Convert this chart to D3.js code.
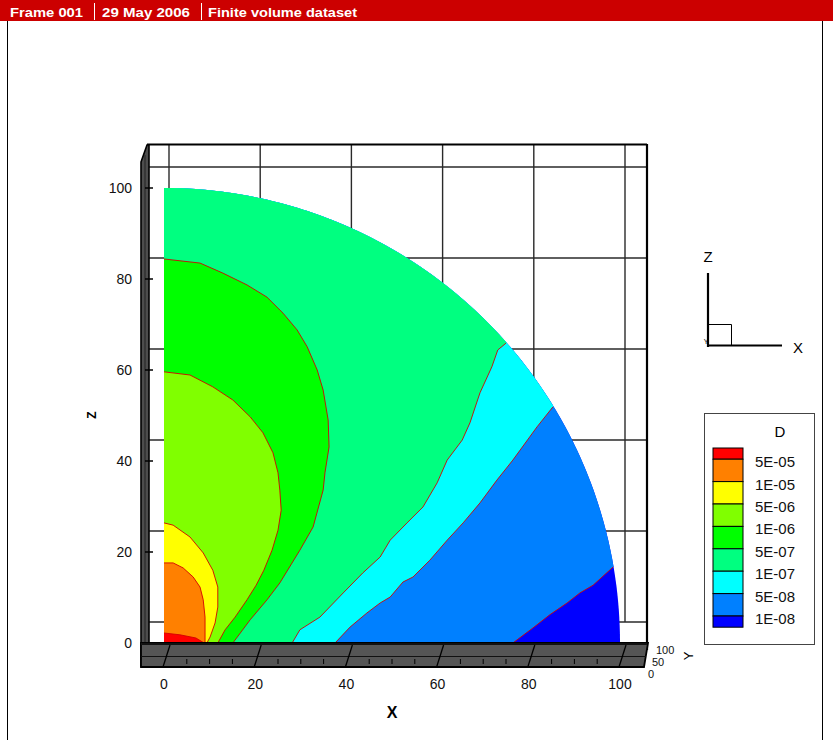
<!DOCTYPE html>
<html><head><meta charset="utf-8">
<script src="https://cdn.jsdelivr.net/npm/d3@7"></script>
<style>html,body{margin:0;padding:0;background:#fff;}svg{display:block;font-family:"Liberation Sans",Arial,sans-serif;}</style>
</head><body>
<script>
// ---------------- data ----------------
const headerItems = ["Frame 001", "29 May 2006", "Finite volume dataset"];
const levelLabels = ["5E-05","1E-05","5E-06","1E-06","5E-07","1E-07","5E-08","1E-08"];
const bandColors = ["#ff0000","#ff8000","#ffff00","#80ff00","#00ff00","#00ff80","#00ffff","#0080ff","#0000ff"];
const xTicks = [0,20,40,60,80,100];
const zTicks = [0,20,40,60,80,100];
const yTicks = [0,50,100];
const xMinor = [5,10,15,25,30,35,45,50,55,65,70,75,85,90,95];
const legendTitle = "D";
const domainRadius = 100;

// contour lines [x, z] — closed against the axes (inner) ...
const c5e05 = [[0,2.2],[3.5,1.8],[7,1.1],[8.8,0]];
const c1e05 = [[0,17.6],[2,17.6],[4.2,16.5],[6.4,14.5],[7.9,12.3],[8.6,9.5],[9,5.7],[9,2.2],[9,0]];
const c5e06 = [[0,26.4],[2,25.9],[5.7,23.3],[8.6,19.8],[10.7,16],[11.8,12.3],[11.8,7.9],[11.2,4.4],[10.1,1.3],[9.4,0]];
const c1e06 = [[0,59.6],[5.7,58.9],[10.7,56.3],[15.1,53.4],[18.9,49.7],[21.7,46.2],[23.9,41.8],[25,37.4],[25.4,33.6],[25.7,29.2],[25,24.8],[23.7,20.4],[21.9,16],[20.2,12.7],[18.2,9.5],[15.6,5.7],[13.4,2.9],[11.8,0]];
const c5e07 = [[0,84.4],[7.9,83.5],[12.9,81.3],[18.2,78.7],[22.6,76],[26.1,72.5],[29.2,68.8],[31.4,65.1],[33.6,60],[34.9,55.6],[36,49],[36.2,43.1],[35.3,37.4],[34.9,33.6],[32.7,25.5],[29.8,20.4],[25.4,13.2],[22.6,9.5],[18.9,5.1],[15.1,0]];
// ... and running from the x axis to the outer arc (outer)
const c1e07 = [[28.1,0],[29.8,2.9],[34.2,5.7],[39.3,11],[43.6,15.4],[47.4,18.9],[49.6,22.6],[53.3,26.4],[56.8,29.9],[59.9,35.2],[62.1,40.2],[65.4,44.6],[67.1,48.4],[69.3,55],[71.9,60.7],[73.2,64.4],[75,65.9]];
const c5e08 = [[37.5,0],[40.8,3.5],[44.5,6.6],[47.4,8.8],[49.6,10.1],[52.4,13.4],[54.6,14.5],[58.3,18.2],[62.1,22.6],[65.6,26.4],[69.3,30.8],[73,35.8],[76.5,40.2],[78.1,42.4],[81.8,47.5],[85.3,51.9]];
const c1e08 = [[76.5,0],[80.9,3.3],[84.6,6.2],[88.4,8.8],[91.2,11],[94.1,12.7],[98.5,16.7]];

const innerCurves = [c5e05, c1e05, c5e06, c1e06, c5e07]; // levels 0..4
const outerCurves = [c1e07, c5e08, c1e08];             // levels 5..7

// ---------------- drawing ----------------
const W = 833, H = 740;
const svg = d3.select("body").append("svg").attr("width", W).attr("height", H);

// header
svg.append("rect").attr("x",0).attr("y",0).attr("width",W).attr("height",21).attr("fill","#cc0000");
const hx = [[10,83],[102,190],[208,357]];
headerItems.forEach((t,i)=>{
  svg.append("text").attr("x",hx[i][0]).attr("y",17).attr("fill","#fff")
    .attr("font-size",12).attr("font-weight","bold")
    .attr("textLength",hx[i][1]-hx[i][0]).attr("lengthAdjust","spacingAndGlyphs").text(t);
});
[94,201].forEach(x=>svg.append("line").attr("x1",x+0.5).attr("x2",x+0.5).attr("y1",3).attr("y2",20).attr("stroke","#fff").attr("stroke-width",1));
// frame
svg.append("line").attr("x1",7.5).attr("x2",7.5).attr("y1",21).attr("y2",H).attr("stroke","#000");
svg.append("line").attr("x1",822.5).attr("x2",822.5).attr("y1",21).attr("y2",H).attr("stroke","#000");

const sx = d3.scaleLinear().domain([0,100]).range([164,620]);
const sz = d3.scaleLinear().domain([0,100]).range([643,188]);
const bx = v => sx(v) + 5, bz = v => sz(v) - 21; // back (y=100) plane

// back grid
const grid = svg.append("g").attr("stroke","#2a2a2a").attr("stroke-width",1.4);
xTicks.forEach(v=>grid.append("line").attr("x1",bx(v)).attr("x2",bx(v)).attr("y1",144).attr("y2",bz(0)));
zTicks.forEach(v=>grid.append("line").attr("x1",148).attr("x2",647).attr("y1",bz(v)).attr("y2",bz(v)));
// box top & right edges
svg.append("line").attr("x1",147).attr("x2",647).attr("y1",144.5).attr("y2",144.5).attr("stroke","#000").attr("stroke-width",2);
svg.append("line").attr("x1",647).attr("x2",647).attr("y1",144).attr("y2",650).attr("stroke","#000").attr("stroke-width",2.2);

// contour fill
const line = d3.line().x(d=>sx(d[0])).y(d=>sz(d[1]));
function arcPts(a0, a1) {
  const n = Math.max(2, Math.ceil(Math.abs(a1-a0)/0.01));
  return d3.range(n+1).map(i=>{const a=a0+(a1-a0)*i/n; return [domainRadius*Math.cos(a), domainRadius*Math.sin(a)];});
}
const fills = svg.append("g");
fills.append("path").attr("d", line([[0,0], ...arcPts(0, Math.PI/2)]) + "Z").attr("fill", bandColors[8]);
outerCurves.slice().reverse().forEach((c,j)=>{
  const lvl = 7 - j;
  const last = c[c.length-1];
  const a = Math.atan2(last[1], last[0]);
  fills.append("path").attr("d", line([[0,0], ...c, ...arcPts(a, Math.PI/2)]) + "Z").attr("fill", bandColors[lvl]);
});
innerCurves.slice().reverse().forEach((c,j)=>{
  const lvl = 4 - j;
  fills.append("path").attr("d", line([[0,0], ...c]) + "Z").attr("fill", bandColors[lvl]);
});
[...innerCurves, ...outerCurves].forEach(c=>{
  fills.append("path").attr("d", line(c)).attr("fill","none").attr("stroke","#d40000").attr("stroke-width",0.9);
});

// left wall
svg.append("path").attr("d","M141,162 L147,145 L149,145 L149,643 L141,667 Z").attr("fill","#4d4d4d").attr("stroke","#000").attr("stroke-width",1.6);
svg.append("line").attr("x1",145).attr("x2",145).attr("y1",155).attr("y2",655).attr("stroke","#222").attr("stroke-width",1);
zTicks.forEach(v=>svg.append("line").attr("x1",145).attr("x2",153).attr("y1",sz(v)).attr("y2",sz(v)).attr("stroke","#000").attr("stroke-width",1.5));

// floor plate
svg.append("path").attr("d","M141,643 L648,643 L644,667 L141,667 Z").attr("fill","#555").attr("stroke","#000").attr("stroke-width",1.8);
svg.append("line").attr("x1",141).attr("x2",646).attr("y1",656.5).attr("y2",656.5).attr("stroke","#111").attr("stroke-width",1.2);
svg.append("line").attr("x1",141).attr("x2",647).attr("y1",644).attr("y2",644).attr("stroke","#111").attr("stroke-width",2);
xTicks.forEach(v=>svg.append("line").attr("x1",sx(v)+6).attr("x2",sx(v)-1).attr("y1",645).attr("y2",667).attr("stroke","#000").attr("stroke-width",1.3));
xMinor.forEach(v=>svg.append("line").attr("x1",sx(v)).attr("x2",sx(v)).attr("y1",659).attr("y2",664).attr("stroke","#000").attr("stroke-width",1));

// tick labels
const tl = svg.append("g").attr("font-size",14).attr("fill","#111");
xTicks.forEach(v=>tl.append("text").attr("x",sx(v)).attr("y",689).attr("text-anchor","middle").text(v));
zTicks.forEach(v=>tl.append("text").attr("x",132).attr("y",sz(v)+5).attr("text-anchor","end").text(v));
const yl = [[648,677.5],[652,665.5],[656,653.5]];
yTicks.forEach((v,i)=>tl.append("text").attr("x",yl[i][0]).attr("y",yl[i][1]).attr("font-size",11).text(v));
svg.append("text").attr("transform","translate(693,656) rotate(-90)").attr("text-anchor","middle").attr("font-size",13).text("Y");

// axis titles
svg.append("text").attr("x",392).attr("y",718).attr("text-anchor","middle").attr("font-size",16).attr("font-weight","bold").text("X");
svg.append("text").attr("transform","translate(96,415) rotate(-90)").attr("text-anchor","middle").attr("font-size",12).attr("font-weight","bold").text("Z");

// axes triad
const tri = svg.append("g").attr("stroke","#000");
tri.append("line").attr("x1",708).attr("x2",708).attr("y1",273).attr("y2",347).attr("stroke-width",2.2);
tri.append("line").attr("x1",707).attr("x2",782).attr("y1",345.5).attr("y2",345.5).attr("stroke-width",2.2);
tri.append("path").attr("d","M708,324.5 H731.5 V345").attr("fill","none").attr("stroke-width",1);
svg.append("text").attr("x",708).attr("y",262).attr("text-anchor","middle").attr("font-size",15).text("Z");
svg.append("text").attr("x",798).attr("y",353).attr("text-anchor","middle").attr("font-size",15).text("X");
svg.append("text").attr("x",706).attr("y",344).attr("text-anchor","middle").attr("font-size",7).text("Y");

// legend
const lg = svg.append("g");
lg.append("rect").attr("x",704.5).attr("y",413.5).attr("width",110).attr("height",231).attr("fill","#fff").attr("stroke","#444").attr("stroke-width",1);
lg.append("text").attr("x",780).attr("y",437).attr("text-anchor","middle").attr("font-size",15).text(legendTitle);
const top0 = 448, step = 22.4, sw0 = 713, swW = 30;
bandColors.forEach((c,i)=>{
  const y0 = i===0 ? top0 : top0 + step/2 + (i-1)*step;
  const h = (i===0 || i===bandColors.length-1) ? step/2 : step;
  lg.append("rect").attr("x",sw0).attr("y",y0).attr("width",swW).attr("height",h).attr("fill",c).attr("stroke","#000").attr("stroke-width",1);
});
levelLabels.forEach((t,i)=>{
  lg.append("text").attr("x",755).attr("y",top0 + step/2 + i*step + 8).attr("font-size",15).attr("fill","#111").text(t);
});
</script>
</body></html>
